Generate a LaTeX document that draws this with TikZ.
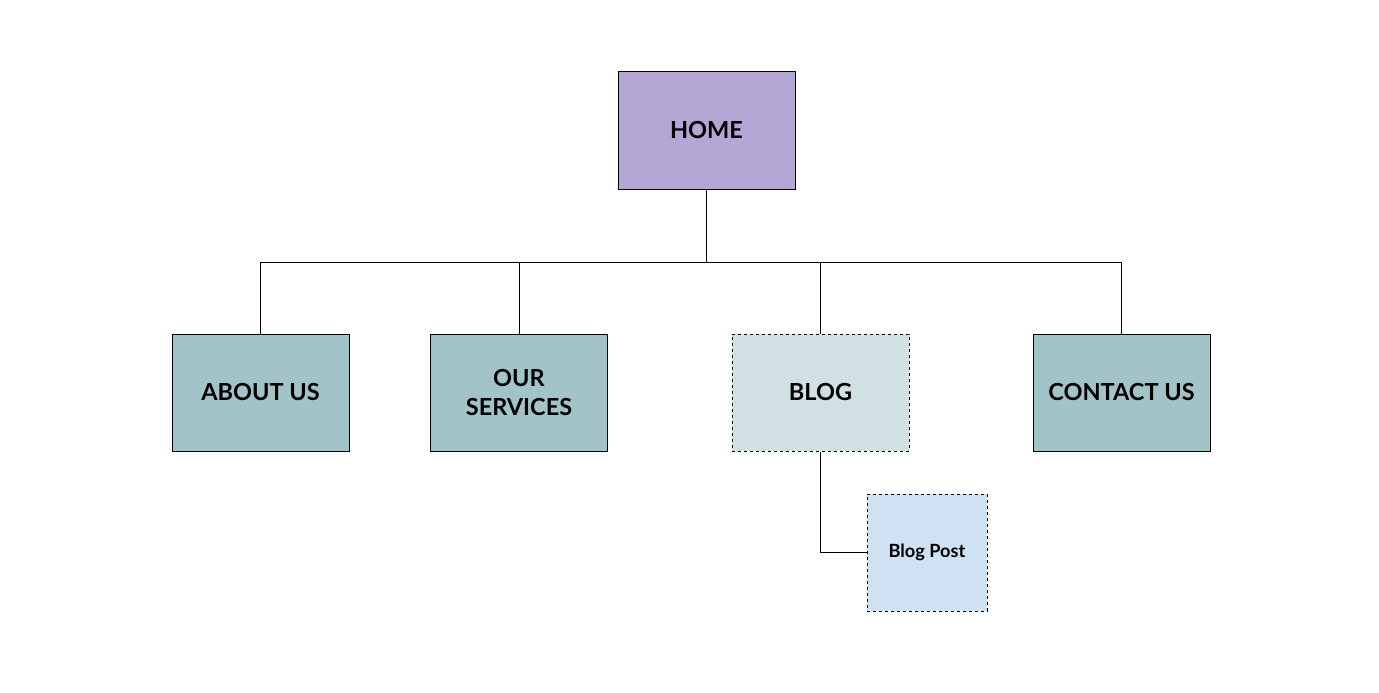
\documentclass[tikz,border=0pt]{standalone}
\usepackage{fontspec}
\setmainfont{Lato}
\usepackage{tikz}
\definecolor{homepurple}{HTML}{B4A7D6}
\definecolor{pageteal}{HTML}{A2C4C9}
\definecolor{blogteal}{HTML}{D0E0E3}
\definecolor{postblue}{HTML}{CFE2F3}
\tikzstyle{page}=[draw, line width=1pt, minimum width=177pt, minimum height=117pt, align=center, font=\fontsize{23.5}{29}\selectfont\bfseries]
\tikzstyle{pagehome}=[page, fill=homepurple]
\tikzstyle{pagemain}=[page, fill=pageteal]
\tikzstyle{pageblog}=[page, fill=blogteal, dashed]
\tikzstyle{pagepost}=[page, fill=postblue, dashed, minimum width=120pt, font=\fontsize{18.2}{22}\selectfont\bfseries]
\tikzstyle{link}=[draw=black, line width=1pt]
\begin{document}
\begin{tikzpicture}[x=1pt, y=-1pt]
		   \useasboundingbox (0, 0) rectangle (1379, 693);
		   \begin{scope}
			   \node (home) at (706.5, 130.5)[pagehome] {HOME};
			   \node (about) at (260.5, 392.5)[pagemain] {ABOUT US};
			   \node (services) at (519, 392.5)[pagemain] {OUR\\SERVICES};
			   \node (blog) at (820.5, 392.5)[pageblog] {BLOG};
			   \node (contact) at (1121.5, 392.5)[pagemain] {CONTACT US};
			   \node (post) at (927, 552.5)[pagepost] {\raisebox{-2pt}{Blog Post}};
			   \coordinate (bus) at (706.5, 262);
		   \end{scope}
		   \begin{scope}
			   \path [link] (home) -- (bus);
			   \path [link] (bus) -| (about);
			   \path [link] (bus) -| (services);
			   \path [link] (bus) -| (blog);
			   \path [link] (bus) -| (contact);
			   \path [link] (blog) |- (post);
		   \end{scope}
	   \end{tikzpicture}
\end{document}
